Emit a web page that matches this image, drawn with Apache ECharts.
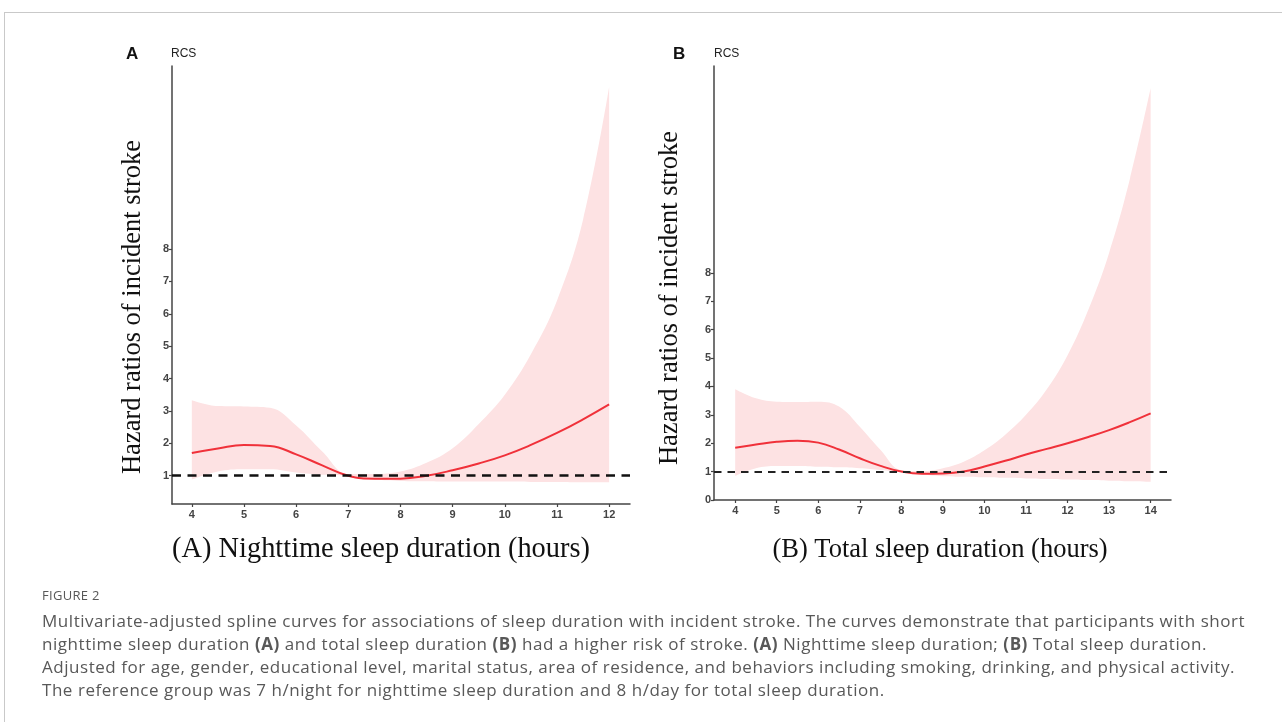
<!DOCTYPE html>
<html>
<head>
<meta charset="utf-8">
<script src="https://cdn.jsdelivr.net/npm/echarts@6/dist/echarts.min.js"></script>
<style>
  html, body { margin: 0; padding: 0; background: #fff; }
  #wrap { position: relative; width: 1282px; height: 722px; overflow: hidden; }
  #frame { position: absolute; left: 4px; top: 12px; width: 1290px; height: 720px;
           border-top: 1px solid #c9c9c9; border-left: 1px solid #c9c9c9; }
  #chart { position: absolute; left: 0; top: 0; width: 1282px; height: 722px; }
  #caption { position: absolute; left: 42px; top: 585px; font-family: "Open Sans", Lato, sans-serif;
             color: #585858; font-weight: 400; }
  #caption .fig { font-size: 13px; line-height: 20px; letter-spacing: 0.3px; margin-bottom: 4px; }
  #caption .ln { font-size: 17px; line-height: 23px; white-space: nowrap; letter-spacing: 0.54px; }
  #caption b { font-weight: 700; }
</style>
</head>
<body>
<div id="wrap">
  <div id="frame"></div>
  <div id="chart"></div>
  <div id="caption">
    <div class="fig">FIGURE 2</div>
    <div class="ln">Multivariate-adjusted spline curves for associations of sleep duration with incident stroke. The curves demonstrate that participants with short</div>
    <div class="ln">nighttime sleep duration <b>(A)</b> and total sleep duration <b>(B)</b> had a higher risk of stroke. <b>(A)</b> Nighttime sleep duration; <b>(B)</b> Total sleep duration.</div>
    <div class="ln">Adjusted for age, gender, educational level, marital status, area of residence, and behaviors including smoking, drinking, and physical activity.</div>
    <div class="ln">The reference group was 7 h/night for nighttime sleep duration and 8 h/day for total sleep duration.</div>
  </div>
</div>
<script>
// ---------- Panel A: nighttime sleep duration ----------
const hoursA = [4, 4.5, 5, 5.5, 6, 6.5, 7, 7.5, 8, 8.5, 9, 9.5, 10, 10.5, 11, 11.5, 12];
const hrA    = [1.70, 1.84, 1.95, 1.92, 1.66, 1.32, 1.00, 0.91, 0.91, 1.00, 1.17, 1.38, 1.63, 1.95, 2.32, 2.74, 3.20];
const lowA   = [0.88, 1.13, 1.20, 1.20, 1.10, 1.03, 1.00, 0.88, 0.84, 0.83, 0.82, 0.82, 0.82, 0.81, 0.81, 0.80, 0.80];
const upA    = [3.33, 3.15, 3.14, 3.10, 2.55, 1.75, 1.05, 1.05, 1.13, 1.40, 1.85, 2.60, 3.50, 4.75, 6.40, 8.90, 13.00];
const xTicksA = [4, 5, 6, 7, 8, 9, 10, 11, 12];
const yTicksA = [1, 2, 3, 4, 5, 6, 7, 8];

// ---------- Panel B: total sleep duration ----------
const hoursB = [4, 4.5, 5, 5.5, 6, 6.5, 7, 7.5, 8, 8.5, 9, 9.5, 10, 10.5, 11, 11.5, 12, 12.5, 13, 13.5, 14];
const hrB    = [1.84, 1.95, 2.05, 2.09, 2.02, 1.78, 1.47, 1.20, 1.00, 0.92, 0.93, 1.00, 1.18, 1.38, 1.60, 1.80, 2.00, 2.22, 2.46, 2.74, 3.05];
const lowB   = [0.85, 1.12, 1.20, 1.20, 1.17, 1.15, 1.12, 1.06, 0.98, 0.90, 0.84, 0.82, 0.80, 0.78, 0.76, 0.74, 0.72, 0.70, 0.68, 0.66, 0.64];
const upB    = [3.90, 3.58, 3.46, 3.45, 3.46, 3.29, 2.58, 1.76, 1.05, 1.02, 1.12, 1.35, 1.75, 2.30, 3.00, 3.90, 5.10, 6.70, 8.70, 11.30, 14.50];
const xTicksB = [4, 5, 6, 7, 8, 9, 10, 11, 12, 13, 14];
const yTicksB = [0, 1, 2, 3, 4, 5, 6, 7, 8];

const yTitle = 'Hazard ratios of incident stroke';
const xTitleA = '(A) Nighttime sleep duration (hours)';
const xTitleB = '(B) Total sleep duration (hours)';

const RED = '#f0313a';
const PINK = '#fde2e3';
const AX = '#444';

// [y, x] order so that the stacked dimension is the y value
function yxPairs(xs, ys) { return xs.map((x, i) => [ys[i], x]); }
function yxBand(xs, lo, hi) { return xs.map((x, i) => [hi[i] - lo[i], x]); }
function pairs(xs, ys) { return xs.map((x, i) => [x, ys[i]]); }

function xAxisCfg(grid, min, max, ticks) {
  return {
    type: 'value', gridIndex: grid, min: min, max: max,
    splitLine: { show: false },
    axisLine: { show: true, lineStyle: { color: AX, width: 1.5 } },
    axisTick: { show: true, length: 3, customValues: ticks, lineStyle: { color: AX, width: 1.2 } },
    axisLabel: { customValues: ticks, color: '#444', fontFamily: 'Liberation Sans, Arial', fontWeight: 'bold', fontSize: 11, margin: 5 }
  };
}
function yAxisCfg(grid, min, max, ticks) {
  return {
    type: 'value', gridIndex: grid, min: min, max: max,
    splitLine: { show: false },
    axisLine: { show: true, lineStyle: { color: AX, width: 1.5 } },
    axisTick: { show: true, length: 3, customValues: ticks, lineStyle: { color: AX, width: 1.2 } },
    axisLabel: { customValues: ticks, color: '#444', fontFamily: 'Liberation Sans, Arial', fontWeight: 'bold', fontSize: 11, margin: 3 }
  };
}
function panelSeries(idx, xs, hr, lo, hi, dash, dashW, dashC) {
  const st = 'band' + idx;
  return [
    { type: 'line', xAxisIndex: idx, yAxisIndex: idx, stack: st, data: yxPairs(xs, lo),
      encode: { x: 1, y: 0 }, smooth: 0.4,
      symbol: 'none', lineStyle: { opacity: 0 }, silent: true, z: 1 },
    { type: 'line', xAxisIndex: idx, yAxisIndex: idx, stack: st, data: yxBand(xs, lo, hi),
      encode: { x: 1, y: 0 }, smooth: 0.4,
      symbol: 'none', lineStyle: { opacity: 0 }, areaStyle: { color: PINK, opacity: 1 }, silent: true, z: 1 },
    { type: 'line', xAxisIndex: idx, yAxisIndex: idx, data: pairs(xs, hr), smooth: 0.45,
      symbol: 'none', lineStyle: { color: RED, width: 2 }, z: 3,
      markLine: { silent: true, symbol: 'none', label: { show: false }, z: 4,
        lineStyle: { type: dash, color: dashC, width: dashW }, data: [{ yAxis: 1 }] } }
  ];
}

const chart = echarts.init(document.getElementById('chart'), null, { renderer: 'canvas' });
const serif = 'Liberation Serif, "Times New Roman", serif';
chart.setOption({
  animation: false,
  backgroundColor: 'transparent',
  grid: [
    { left: 172, top: 66, width: 458, height: 438 },
    { left: 714, top: 66, width: 457, height: 434 }
  ],
  xAxis: [ xAxisCfg(0, 3.62, 12.4, xTicksA), xAxisCfg(1, 3.49, 14.49, xTicksB) ],
  yAxis: [ yAxisCfg(0, 0.127, 13.65, yTicksA), yAxisCfg(1, 0, 15.28, yTicksB) ],
  series: [].concat(
    panelSeries(0, hoursA, hrA, lowA, upA, [9, 6.5], 2.6, '#111'),
    panelSeries(1, hoursB, hrB, lowB, upB, [7.5, 6], 2, '#222')
  ),
  graphic: [
    { type: 'text', left: 126, top: 46, style: { text: 'A', font: 'bold 17px "Liberation Sans", Arial', fill: '#111' } },
    { type: 'text', left: 171, top: 48, style: { text: 'RCS', font: '12px "Liberation Sans", Arial', fill: '#222' } },
    { type: 'text', left: 673, top: 46, style: { text: 'B', font: 'bold 17px "Liberation Sans", Arial', fill: '#111' } },
    { type: 'text', left: 714, top: 48, style: { text: 'RCS', font: '12px "Liberation Sans", Arial', fill: '#222' } },
    { type: 'text', x: 133, y: 307, rotation: Math.PI / 2,
      style: { text: yTitle, font: '26.5px ' + serif, fill: '#111', align: 'center', verticalAlign: 'middle' } },
    { type: 'text', x: 670, y: 298, rotation: Math.PI / 2,
      style: { text: yTitle, font: '26.5px ' + serif, fill: '#111', align: 'center', verticalAlign: 'middle' } },
    { type: 'text', x: 381, y: 550,
      style: { text: xTitleA, font: '28.4px ' + serif, fill: '#111', align: 'center', verticalAlign: 'middle' } },
    { type: 'text', x: 940, y: 550,
      style: { text: xTitleB, font: '26.5px ' + serif, fill: '#111', align: 'center', verticalAlign: 'middle' } }
  ]
});
</script>
</body>
</html>
